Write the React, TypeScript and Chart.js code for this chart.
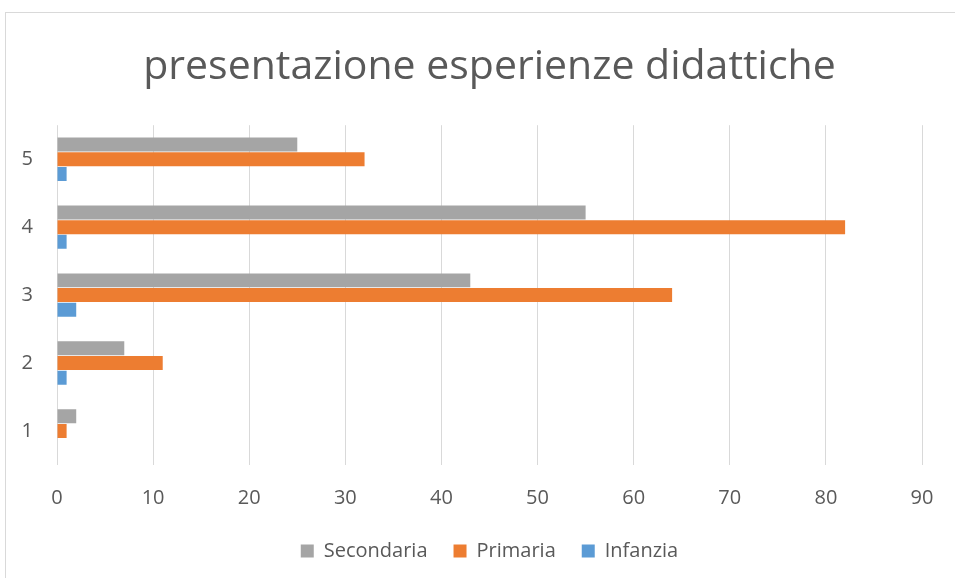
import React, { useEffect, useRef } from 'react';
import { Chart, registerables } from 'chart.js';

Chart.register(...registerables);

const titleText = 'presentazione esperienze didattiche';
const categories = ['1', '2', '3', '4', '5'];
const seriesNames = ['Secondaria', 'Primaria', 'Infanzia'];
const secondaria = [2, 7, 43, 55, 25];
const primaria = [1, 11, 64, 82, 32];
const infanzia = [0, 1, 2, 1, 1];
const seriesColors = ['#a5a5a5', '#ed7d31', '#5b9bd5'];
const xMin = 0;
const xMax = 90;
const xStep = 10;

const FONT = '"Open Sans", "DejaVu Sans", sans-serif';
const TEXT = '#595959';
const GRID = '#d9d9d9';

export default function App() {
  const ref = useRef<HTMLCanvasElement | null>(null);

  useEffect(() => {
    const canvas = ref.current;
    if (!canvas) return;
    const values = [secondaria, primaria, infanzia];
    const chart = new Chart(canvas, {
      type: 'bar',
      data: {
        labels: categories,
        datasets: seriesNames.map((name, i) => ({
          label: name,
          data: values[i],
          backgroundColor: seriesColors[i],
          borderWidth: 0,
          barPercentage: 0.95,
          categoryPercentage: 0.65,
        })),
      },
      options: {
        indexAxis: 'y',
        responsive: false,
        animation: false,
        layout: { padding: { left: 0, right: 33, top: 0, bottom: 7 } },
        scales: {
          x: {
            type: 'linear',
            min: xMin,
            max: xMax,
            ticks: { stepSize: xStep, color: TEXT, font: { family: FONT, size: 20 }, padding: 21 },
            grid: { color: GRID, lineWidth: 1, drawTicks: false },
            border: { display: false },
            afterFit: (scale: any) => { scale.height = 50; },
          },
          y: {
            type: 'category',
            reverse: true,
            ticks: { color: TEXT, font: { family: FONT, size: 20 }, padding: 24 },
            grid: { display: false, drawTicks: false },
            border: { display: false },
            afterFit: (scale: any) => { scale.width = 57; },
          },
        },
        plugins: {
          title: {
            display: true,
            fullSize: false,
            text: titleText,
            color: TEXT,
            font: { family: FONT, size: 41, weight: 'normal' },
            padding: { top: 43, bottom: 33 },
          },
          legend: {
            position: 'bottom',
            fullSize: false,
            labels: {
              color: TEXT,
              font: { family: FONT, size: 20 },
              boxWidth: 13,
              boxHeight: 13,
              padding: 26,
            },
          },
          tooltip: { enabled: false },
        },
      },
    } as any);
    return () => chart.destroy();
  }, []);

  return (
    <div style={{ position: 'fixed', left: 0, top: 0, width: 955, height: 578, overflow: 'hidden', background: '#fff' }}>
      <div style={{ position: 'absolute', left: 5, top: 12, width: 1000, height: 700, border: '1px solid #d9d9d9', boxSizing: 'border-box' }} />
      <canvas ref={ref} width={955} height={578} style={{ position: 'absolute', left: 0, top: 0, width: 955, height: 578 }} />
    </div>
  );
}
